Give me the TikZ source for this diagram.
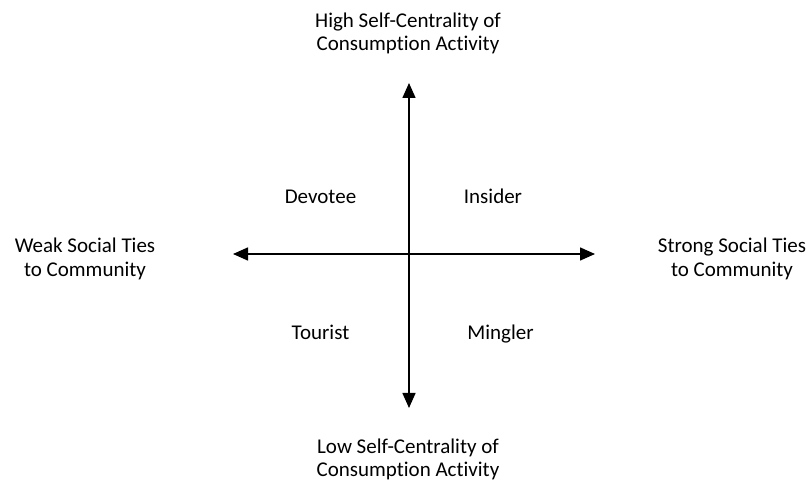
\documentclass[tikz,border=0pt]{standalone}
\usepackage{fontspec}
\setmainfont[Ligatures=NoCommon]{Carlito}
\usetikzlibrary{arrows.meta}
\begin{document}
\begin{tikzpicture}[x=1pt,y=1pt,
  lbl/.style={align=center,font=\fontsize{21}{23.5}\selectfont,inner sep=0pt},
  axis/.style={line width=1.5pt,{Triangle[length=15pt,width=13pt]}-{Triangle[length=15pt,width=13pt]}}]
\useasboundingbox (0,0) rectangle (809,490);
\coordinate (top) at (409,407);
\coordinate (bot) at (409,82);
\coordinate (lft) at (233,236);
\coordinate (rgt) at (595,236);
\draw[axis] (bot) -- (top);
\draw[axis] (lft) -- (rgt);
\node[lbl] (hi) at (408,456.5) {High Self-Centrality of\\Consumption Activity};
\node[lbl] (lo) at (408,30.7) {Low Self-Centrality of\\Consumption Activity};
\node[lbl] (wk) at (85,231) {Weak Social Ties\\to Community};
\node[lbl] (st) at (732,231) {Strong Social Ties\\to Community};
\node[lbl,anchor=base] (dv) at (320.5,286) {Devotee};
\node[lbl,anchor=base] (in) at (493,286) {Insider};
\node[lbl,anchor=base] (to) at (320.5,150) {Tourist};
\node[lbl,anchor=base] (mi) at (500.5,150) {Mingler};
\end{tikzpicture}
\end{document}
